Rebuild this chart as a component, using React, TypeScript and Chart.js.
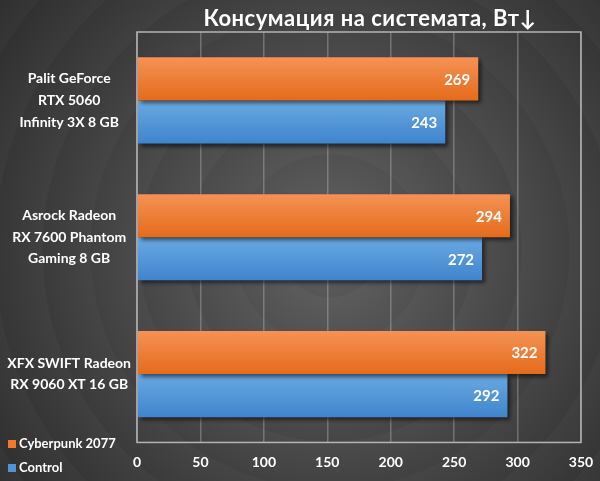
import React, { useEffect, useRef } from 'react';
import Chart from 'chart.js/auto';

const gpuNames = [
  ['Palit GeForce', 'RTX 5060', 'Infinity 3X 8 GB'],
  ['Asrock Radeon', 'RX 7600 Phantom', 'Gaming 8 GB'],
  ['XFX SWIFT Radeon', 'RX 9060 XT 16 GB'],
];
const cyberpunkWatts = [269, 294, 322];
const controlWatts = [243, 272, 292];
const seriesNames = ['Cyberpunk 2077', 'Control'];
const axisMax = 350;
const axisStep = 50;
const chartTitle = 'Консумация на системата, Вт↓';

const FONT = 'Lato, "Open Sans", sans-serif';
const CAT_PCT = 0.63;

// vertical gradient for each bar, using the y scale to find where the bar sits
const barGradient = (top: string, bottom: string, side: number) => (ctx: any) => {
  const chart = ctx.chart;
  const yScale = chart.scales.y;
  if (!yScale || ctx.dataIndex === undefined) return bottom;
  const center = yScale.getPixelForValue(ctx.dataIndex);
  const half = (yScale.height / gpuNames.length) * CAT_PCT / 2;
  if (!Number.isFinite(center) || !Number.isFinite(half) || half <= 0) return bottom;
  const y0 = side === 0 ? center - half : center;
  const y1 = side === 0 ? center : center + half;
  const g = chart.ctx.createLinearGradient(0, y0, 0, y1);
  g.addColorStop(0, top);
  g.addColorStop(1, bottom);
  return g;
};

const backdrop = {
  id: 'backdrop',
  beforeDraw(chart: any) {
    const { ctx, width, height } = chart;
    const cx = 330, cy = 250, rMax = 470;
    const g = ctx.createRadialGradient(cx, cy, 0, cx, cy, rMax);
    const band = 48;
    for (let r = 0; r < rMax; r += band) {
      const t0 = r / rMax;
      const t1 = Math.min(1, (r + band - 1) / rMax);
      const base = 92 - 52 * t0;
      const light = Math.round(base + 4);
      const dark = Math.round(base - 6);
      g.addColorStop(t0, `rgb(${light},${light},${light})`);
      g.addColorStop(t1, `rgb(${dark},${dark},${dark})`);
    }
    ctx.save();
    ctx.fillStyle = g;
    ctx.fillRect(0, 0, width, height);
    ctx.restore();
  },
  beforeDatasetsDraw(chart: any) {
    const ctx = chart.ctx;
    ctx.save();
    ctx.shadowColor = 'rgba(0,0,0,0.55)';
    ctx.shadowBlur = 4;
    ctx.shadowOffsetX = 3;
    ctx.shadowOffsetY = 3;
  },
  afterDatasetsDraw(chart: any) {
    const ctx = chart.ctx;
    ctx.restore();
    const { left, top, right, bottom } = chart.chartArea;
    ctx.save();
    ctx.strokeStyle = '#b4b4b4';
    ctx.lineWidth = 1.5;
    ctx.strokeRect(left, top, right - left, bottom - top);

    // value labels at the inner end of each bar
    ctx.fillStyle = '#ffffff';
    ctx.font = `bold 15px ${FONT}`;
    ctx.textAlign = 'right';
    ctx.textBaseline = 'middle';
    chart.data.datasets.forEach((ds: any, di: number) => {
      chart.getDatasetMeta(di).data.forEach((bar: any, i: number) => {
        ctx.fillText(String(ds.data[i]), bar.x - 8, bar.y + 1);
      });
    });

    // title
    ctx.font = `bold 22px ${FONT}`;
    ctx.textAlign = 'center';
    (ctx as any).letterSpacing = '0.5px';
    ctx.fillText(chartTitle, 370, 19);
    (ctx as any).letterSpacing = '0px';

    // legend, bottom left
    const colors = ['#ef7a2c', '#4f93d8'];
    ctx.font = `bold 13px ${FONT}`;
    ctx.textAlign = 'left';
    seriesNames.forEach((name, i) => {
      const y = 444 + i * 24;
      ctx.fillStyle = colors[i];
      ctx.fillRect(8, y - 4, 8, 8);
      ctx.fillStyle = '#ffffff';
      ctx.fillText(name, 19, y);
    });
    ctx.restore();
  },
};

const App: React.FC = () => {
  const canvasRef = useRef<HTMLCanvasElement | null>(null);
  const chartRef = useRef<Chart | null>(null);

  useEffect(() => {
    document.body.style.margin = '0';
    const ctx = canvasRef.current?.getContext('2d');
    if (!ctx) return;
    if (chartRef.current) chartRef.current.destroy();

    chartRef.current = new Chart(ctx, {
      type: 'bar',
      data: {
        labels: gpuNames,
        datasets: [
          {
            label: seriesNames[0],
            data: cyberpunkWatts,
            backgroundColor: barGradient('#f59256', '#e56b1b', 0),
            borderWidth: 0,
          },
          {
            label: seriesNames[1],
            data: controlWatts,
            backgroundColor: barGradient('#6aa9e2', '#3f85cd', 1),
            borderWidth: 0,
          },
        ],
      },
      options: {
        indexAxis: 'y',
        responsive: false,
        animation: false,
        devicePixelRatio: 1,
        layout: { padding: { top: 32, right: 19, left: 0, bottom: 0 } },
        datasets: {
          bar: { categoryPercentage: CAT_PCT, barPercentage: 1 },
        },
        plugins: {
          legend: { display: false },
          tooltip: { enabled: false },
          title: { display: false },
        },
        scales: {
          x: {
            min: 0,
            max: axisMax,
            ticks: {
              stepSize: axisStep,
              color: '#ffffff',
              font: { family: FONT, size: 14, weight: 'bold' },
              padding: 12,
            },
            grid: {
              color: 'rgba(200,200,200,0.35)',
              lineWidth: 1.5,
              drawTicks: false,
            },
            border: { display: false },
            afterFit: (scale: any) => {
              scale.height = 30;
              scale.paddingLeft = 0;
              scale.paddingRight = 0;
            },
          },
          y: {
            ticks: {
              color: '#ffffff',
              crossAlign: 'center',
              padding: 6,
              font: { family: FONT, size: 14, weight: 'bold', lineHeight: 1.55 },
            },
            grid: { display: false, drawTicks: false },
            border: { display: false },
            afterFit: (scale: any) => {
              scale.width = 137;
            },
          },
        },
      },
      plugins: [backdrop],
    } as any);

    return () => {
      if (chartRef.current) {
        chartRef.current.destroy();
        chartRef.current = null;
      }
    };
  }, []);

  return (
    <div style={{ width: 600, height: 481 }}>
      <canvas ref={canvasRef} width={600} height={481} />
    </div>
  );
};

export default App;
